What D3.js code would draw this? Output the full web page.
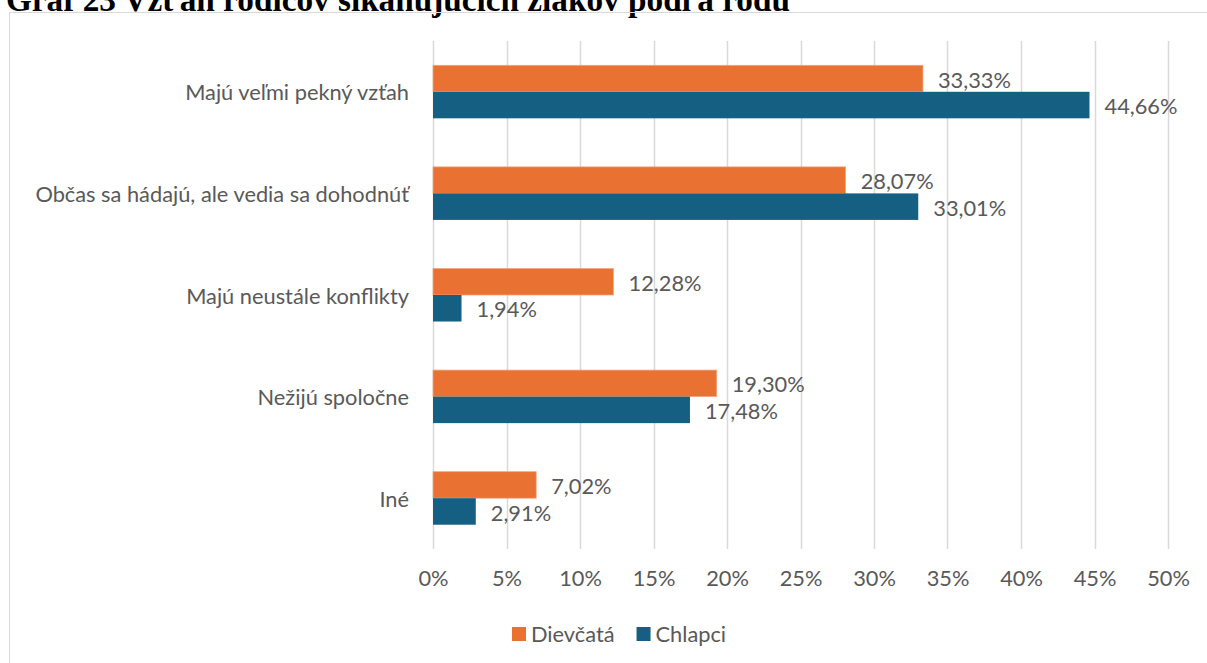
<!DOCTYPE html>
<html>
<head>
<meta charset="utf-8">
<script src="https://cdn.jsdelivr.net/npm/d3@7/dist/d3.min.js"></script>
<style>
  html, body { margin: 0; padding: 0; background: #fff; }
  svg { display: block; }
</style>
</head>
<body>
<svg id="chart" width="1207" height="663"></svg>
<script>
// Data
const categories = [
  "Majú veľmi pekný vzťah",
  "Občas sa hádajú, ale vedia sa dohodnúť",
  "Majú neustále konflikty",
  "Nežijú spoločne",
  "Iné"
];
const seriesNames = ["Dievčatá", "Chlapci"];
const girls = [33.33, 28.07, 12.28, 19.30, 7.02];
const boys  = [44.66, 33.01, 1.94, 17.48, 2.91];
const tickValues = [0, 5, 10, 15, 20, 25, 30, 35, 40, 45, 50];
const titleText = "Graf 23 Vzťah rodičov šikanujúcich žiakov podľa rodu";

const colors = ["#E97132", "#156082"];
const textColor = "#595959";
const font = "Lato, 'Open Sans', sans-serif";
const fontSize = 21.8;

const svg = d3.select("#chart");

// Title (runs off the top edge)
const title = svg.append("text")
  .attr("x", 6).attr("y", 11)
  .attr("font-family", "'Liberation Serif', 'Times New Roman', serif")
  .attr("font-weight", "bold")
  .attr("font-size", 22)
  .attr("fill", "#000")
  .text(titleText);
const tw = title.node().getComputedTextLength();
title.attr("font-size", 22 * 784 / tw);

// Chart frame
svg.append("rect")
  .attr("x", 9.5).attr("y", 12.5)
  .attr("width", 1210).attr("height", 700)
  .attr("fill", "none")
  .attr("stroke", "#d9d9d9")
  .attr("stroke-width", 1);

// Scales
const x = d3.scaleLinear().domain([0, 50]).range([433, 1168]);
const y = d3.scaleBand().domain(categories).range([41, 549]).paddingInner(0.478).paddingOuter(0.239);
const ySub = d3.scaleBand().domain(seriesNames).range([0, y.bandwidth()]);

// Gridlines
svg.append("g")
  .selectAll("line")
  .data(tickValues)
  .join("line")
  .attr("x1", d => Math.round(x(d)) + 0.5)
  .attr("x2", d => Math.round(x(d)) + 0.5)
  .attr("y1", 41).attr("y2", 549)
  .attr("stroke", "#d9d9d9")
  .attr("stroke-width", 1.5);

// X axis tick labels
const xAxis = d3.axisBottom(x)
  .tickValues(tickValues)
  .tickFormat(d => d + "%")
  .tickSize(0)
  .tickPadding(0);
const gx = svg.append("g")
  .attr("transform", "translate(0,578)")
  .call(xAxis);
gx.select(".domain").remove();
gx.selectAll("text")
  .attr("font-family", font)
  .attr("font-size", fontSize)
  .attr("fill", textColor)
  .attr("dy", "0.35em");

// Y axis category labels
const yAxis = d3.axisLeft(y).tickSize(0).tickPadding(0);
const gy = svg.append("g")
  .attr("transform", "translate(409,1)")
  .call(yAxis);
gy.select(".domain").remove();
gy.selectAll("text")
  .attr("font-family", font)
  .attr("font-size", fontSize)
  .attr("fill", textColor)
  .attr("dy", "0.35em");

// Bars and value labels
const seriesData = [girls, boys];
seriesNames.forEach((name, si) => {
  const g = svg.append("g");
  const rows = categories.map((c, i) => ({ c, v: seriesData[si][i] }));
  g.selectAll("rect")
    .data(rows)
    .join("rect")
    .attr("x", x(0))
    .attr("y", d => y(d.c) + ySub(name))
    .attr("width", d => x(d.v) - x(0))
    .attr("height", ySub.bandwidth())
    .attr("fill", colors[si])
    .attr("stroke", si === 0 ? "#f3a57c" : "none")
    .attr("stroke-width", 0.75);
  g.selectAll("text")
    .data(rows)
    .join("text")
    .attr("x", d => x(d.v) + 15)
    .attr("y", d => y(d.c) + ySub(name) + ySub.bandwidth() / 2 + 1.5)
    .attr("dy", "0.35em")
    .attr("font-family", font)
    .attr("font-size", fontSize)
    .attr("fill", textColor)
    .text(d => d.v.toFixed(2).replace(".", ",") + "%");
});

// Legend
const legend = svg.append("g").attr("transform", "translate(512,634)");
let lx = 0;
seriesNames.forEach((name, si) => {
  legend.append("rect")
    .attr("x", lx).attr("y", -7)
    .attr("width", 14).attr("height", 14)
    .attr("fill", colors[si]);
  const t = legend.append("text")
    .attr("x", lx + 19).attr("y", 0)
    .attr("dy", "0.35em")
    .attr("font-family", font)
    .attr("font-size", fontSize)
    .attr("fill", textColor)
    .text(name);
  lx += 19 + t.node().getComputedTextLength() + 22;
});
</script>
</body>
</html>
